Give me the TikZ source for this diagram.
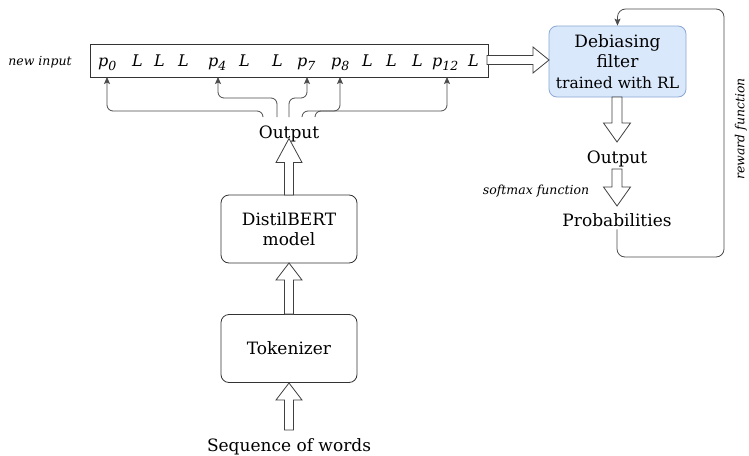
\documentclass[tikz,border=0pt]{standalone}
\usepackage{fontspec}
\setmainfont{DejaVu Serif}
\usetikzlibrary{calc,arrows.meta}

\definecolor{filterfill}{HTML}{DAE8FC}
\definecolor{filterline}{HTML}{8AA8D4}

% small subscript used for the token indices
\newcommand{\tokidx}[1]{\raisebox{-0.25em}{\fontsize{12.5}{13}\selectfont #1}}

% hollow block arrow from #1 to #2: shaft half width #3, head half width #4, head length #5
\newcommand{\blockarrow}[5]{%
  \path coordinate (ha) at ($(#2)!#5!(#1)$);
  \draw[hollow] ($(#1)!#3!90:(#2)$) -- ($(ha)!#3!90:(#2)$) -- ($(ha)!#4!90:(#2)$)
    -- (#2) -- ($(ha)!#4!-90:(#2)$) -- ($(ha)!#3!-90:(#2)$) -- ($(#1)!#3!-90:(#2)$) -- cycle;
}

\tikzset{
  main/.style={font=\fontsize{17}{20}\selectfont, inner sep=3pt},
  lbl/.style={font=\fontsize{12.5}{14}\selectfont\itshape, inner sep=0pt},
  tok/.style={font=\fontsize{16}{18}\selectfont\itshape, inner sep=0pt},
  procbox/.style={draw=black!80, line width=0.8pt, rounded corners=8pt, minimum width=136pt,
    minimum height=68pt, align=center, font=\fontsize{17}{20}\selectfont},
  filterbox/.style={draw=filterline, fill=filterfill, line width=0.8pt, rounded corners=8pt,
    minimum width=137pt, minimum height=71pt, align=center, inner sep=0pt,
    font=\fontsize{17}{20}\selectfont},
  hollow/.style={draw=black!75, line width=0.8pt, fill=white, line join=miter},
  conn/.style={draw=black!70, line width=0.8pt, rounded corners=6pt,
    -{Stealth[length=7pt,width=6pt,inset=1.5pt]}},
}

\begin{document}
\begin{tikzpicture}[x=1pt,y=-1pt]
\useasboundingbox[fill=white] (0,0) rectangle (749,455);

% ---- left column: words -> tokenizer -> DistilBERT -> output ----
\node[main, anchor=base] (seq) at (289,451) {Sequence of words};
\node[procbox] (tokz) at (289,348.5) {Tokenizer};
\node[procbox] (dbert) at (289,229) {DistilBERT\\model};
\node[main, anchor=base] (outL) at (289,138) {Output};

\coordinate (s0) at (289,430);
\coordinate (s1) at (289,383);
\blockarrow{s0}{s1}{4.5pt}{13pt}{17pt}
\coordinate (s2) at (289,314);
\coordinate (s3) at (289,263);
\blockarrow{s2}{s3}{4.5pt}{13pt}{17pt}
\coordinate (s4) at (289,195);
\coordinate (s5) at (289,138.5);
\blockarrow{s4}{s5}{4.5pt}{13pt}{24pt}

% ---- the new input sequence ----
\node[lbl] (newin) at (40,62) {new input};
\node[draw=black!80, line width=0.8pt, minimum width=398pt, minimum height=33pt, inner sep=0pt]
  (inbox) at (289,60.5) {};

\node[tok, anchor=base west] (p0)  at (98,66)  {p\tokidx{0}};
\node[tok, anchor=base west] (l1)  at (132,66) {L};
\node[tok, anchor=base west] (l2)  at (154,66) {L};
\node[tok, anchor=base west] (l3)  at (178,66) {L};
\node[tok, anchor=base west] (p4)  at (208,66) {p\tokidx{4}};
\node[tok, anchor=base west] (l5)  at (239,66) {L};
\node[tok, anchor=base west] (l6)  at (272,66) {L};
\node[tok, anchor=base west] (p7)  at (297,66) {p\tokidx{7}};
\node[tok, anchor=base west] (p8)  at (331,66) {p\tokidx{8}};
\node[tok, anchor=base west] (l9)  at (362,66) {L};
\node[tok, anchor=base west] (l10) at (386,66) {L};
\node[tok, anchor=base west] (l11) at (412,66) {L};
\node[tok, anchor=base west] (p12) at (432,66) {p\tokidx{12}};
\node[tok, anchor=base west] (l13) at (468,66) {L};

% arrow ends on the lower edge of the sequence box
\coordinate (t0)  at (107,77);
\coordinate (t4)  at (218,77);
\coordinate (t7)  at (307,77);
\coordinate (t8)  at (340,77);
\coordinate (t12) at (447,77);
% starting points above the output label
\coordinate (o1) at (263,117);
\coordinate (o2) at (277,117);
\coordinate (o3) at (289,117);
\coordinate (o4) at (302,117);
\coordinate (o5) at (315,117);

\draw[conn] (o1) -- (o1 |- 0,111) -| (t0);
\draw[conn] (o2) -- (o2 |- 0,98) -| (t4);
\draw[conn] (o3) -- (o3 |- 0,98) -| (t7);
\draw[conn] (o4) -- (o4 |- 0,111) -| (t8);
\draw[conn] (o5) -- (o5 |- 0,111) -| (t12);

% ---- right column: filter -> output -> probabilities ----
\node[filterbox] (deb) at (617.5,61.5)
  {Debiasing\\filter\\[1pt]\fontsize{15.5}{18}\selectfont trained with RL};
\node[main, anchor=base] (outR) at (617,163) {Output};
\node[main, anchor=base] (prob) at (617,226) {Probabilities};
\node[lbl, anchor=base] (smax) at (536,194) {softmax function};
\node[lbl, rotate=90] (rew) at (741,129) {reward function};

\coordinate (r0) at (487,60);
\coordinate (r1) at (549,60);
\blockarrow{r0}{r1}{4.5pt}{13pt}{16pt}
\coordinate (r2) at (617,97);
\coordinate (r3) at (617,142);
\blockarrow{r2}{r3}{5pt}{13.5pt}{19pt}
\coordinate (r4) at (617,169);
\coordinate (r5) at (617,206);
\blockarrow{r4}{r5}{5pt}{13.5pt}{19pt}

% feedback loop back into the filter
\draw[conn, rounded corners=8pt] (prob.south) -- (617,257) -- (724,257) -- (724,9) -| (deb.north);

\end{tikzpicture}
\end{document}
